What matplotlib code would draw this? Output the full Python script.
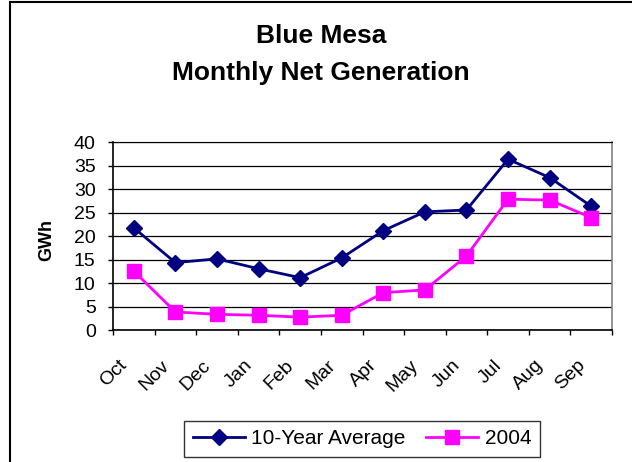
import matplotlib
matplotlib.use("Agg")
import matplotlib.pyplot as plt
from matplotlib.lines import Line2D
from matplotlib.transforms import ScaledTranslation
import numpy as np

plt.rcParams['font.family'] = ['Liberation Sans', 'DejaVu Sans']

# data
months = ["Oct", "Nov", "Dec", "Jan", "Feb", "Mar", "Apr", "May", "Jun", "Jul", "Aug", "Sep"]
avg_10yr = [21.8, 14.4, 15.2, 13.1, 11.2, 15.4, 21.2, 25.2, 25.6, 36.4, 32.5, 26.4]
gen_2004 = [12.6, 3.9, 3.4, 3.2, 2.8, 3.2, 8.0, 8.6, 15.8, 27.9, 27.7, 24.0]
y_ticks = [0, 5, 10, 15, 20, 25, 30, 35, 40]

fig = plt.figure(figsize=(6.32, 4.62), dpi=100)
ax = fig.add_axes([113 / 632, 1 - 330.3 / 462, 499 / 632, 188 / 462])

x = np.arange(len(months))
ax.plot(x, avg_10yr, color="#000080", lw=2, marker="D", ms=8.5, label="10-Year Average", zorder=3)
ax.plot(x, gen_2004, color="#FF00FF", lw=2, marker="s", ms=10, label="2004", zorder=3)

ax.set_xlim(-0.5, len(months) - 0.5)
ax.set_ylim(0, 40)
ax.set_yticks(y_ticks)
ax.yaxis.grid(True, color="black", lw=0.9)
ax.set_axisbelow(True)

# category labels in the middle, tick marks between categories
ax.set_xticks(x)
ax.set_xticklabels(months, rotation=45, ha="right", rotation_mode="anchor", fontsize=14)
ax.set_xticks(np.arange(-0.5, len(months)), minor=True)
ax.tick_params(axis="x", which="major", length=0, pad=9)
ax.tick_params(axis="x", which="minor", length=3.5, width=1, direction="out")
ax.tick_params(axis="y", length=3.5, width=1, direction="out", labelsize=14, pad=9)

# nudge the slanted month labels left and down like the original
shift = ScaledTranslation(-15 / 100, -14 / 100, fig.dpi_scale_trans)
for lbl in ax.get_xticklabels():
    lbl.set_transform(lbl.get_transform() + shift)

for side in ["left", "bottom"]:
    ax.spines[side].set_color("black")
    ax.spines[side].set_linewidth(1.2)
ax.spines["top"].set_color("black")
ax.spines["right"].set_color("#808080")
ax.spines["right"].set_linewidth(1.2)

ax.set_ylabel("GWh", fontsize=13, fontweight="bold")
ax.yaxis.set_label_coords((55 - 113) / 499, 0.48)

fig.text(0.508, 1 - 43 / 462, "Blue Mesa", ha="center", va="baseline", fontsize=19, fontweight="bold")
fig.text(0.508, 1 - 80 / 462, "Monthly Net Generation", ha="center", va="baseline", fontsize=19, fontweight="bold")

leg = fig.legend(loc="center", bbox_to_anchor=(362 / 632, 1 - 438.7 / 462), ncol=2,
                 fontsize=15, frameon=True, fancybox=False, handlelength=2.5,
                 columnspacing=1.0, handletextpad=0.3, borderpad=0.4, borderaxespad=0)
leg.get_frame().set_edgecolor("black")
leg.get_frame().set_linewidth(1)

# outer chart border (only the left and top edges show)
fig.add_artist(Line2D([10 / 632, 10 / 632], [0, 1 - 2 / 462], color="black", lw=1.5))
fig.add_artist(Line2D([10 / 632, 1], [1 - 2 / 462, 1 - 2 / 462], color="black", lw=1.5))

fig.savefig("out.png", dpi=100)
